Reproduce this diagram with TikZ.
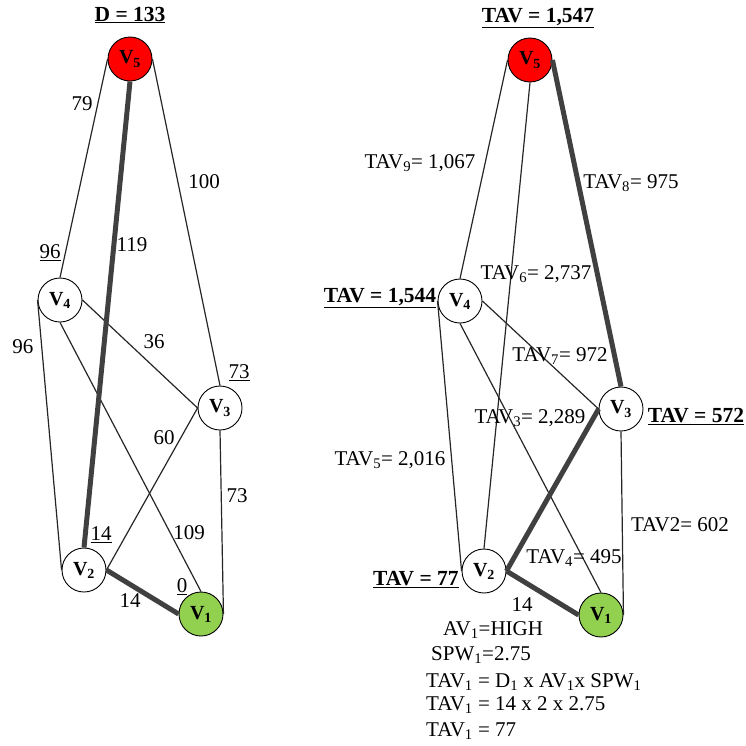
\documentclass[tikz,border=0pt]{standalone}
\usepackage{fontspec}
\setmainfont{Liberation Serif}
\definecolor{vgreen}{RGB}{146,208,80}
\begin{document}
\begin{tikzpicture}[x=1pt,y=-1pt,
  vtx/.style={circle,draw=black,line width=0.9pt,minimum size=44pt,inner sep=0pt,font=\fontsize{20}{23}\selectfont\bfseries},
  lbl/.style={inner sep=0pt,font=\fontsize{21}{25}\selectfont},
  blbl/.style={inner sep=0pt,font=\fontsize{21.5}{25}\selectfont\bfseries},
  thin/.style={draw=black!85,line width=1.2pt},
  thick/.style={draw=black!75,line width=5pt}]
\useasboundingbox (0,0) rectangle (746,745);
% ---------- left graph ----------
\node[vtx,fill=red] (a5) at (130,59) {V\textsubscript{5}};
\node[vtx,fill=white] (a4) at (60,300) {V\textsubscript{4}};
\node[vtx,fill=white] (a3) at (220,408) {V\textsubscript{3}};
\node[vtx,fill=white] (a2) at (84,570) {V\textsubscript{2}};
\node[vtx,fill=vgreen] (a1) at (201,614) {V\textsubscript{1}};
\draw[thin] (a5.west) -- (a4.north);
\draw[thin] (a5.east) -- (a3.north);
\draw[thin] (a4.east) -- (a3.west);
\draw[thin] (a4.west) -- (a2.west);
\draw[thin] (a4.south) -- (a1.north);
\draw[thin] (a3.west) -- (a2.east);
\draw[thin] (a3.south) -- (a1.east);
\draw[thick] (a5.south) -- (a2.north);
\draw[thick] (a2.east) -- (a1.west);
\node[blbl] (ld) at (130,15) {\underline{D = 133}};
\node[lbl] (l79) at (82,104) {79};
\node[lbl] (l100) at (204,182) {100};
\node[lbl] (l119) at (132,245) {119};
\node[lbl] (l96u) at (50,253) {\underline{96}};
\node[lbl] (l96) at (23,347) {96};
\node[lbl] (l36) at (154,342) {36};
\node[lbl] (l73u) at (239,373) {\underline{73}};
\node[lbl] (l60) at (164,438) {60};
\node[lbl] (l73) at (237,496) {73};
\node[lbl] (l109) at (189,533) {109};
\node[lbl] (l14u) at (101,535) {\underline{14}};
\node[lbl] (l0u) at (182,587) {\underline{0}};
\node[lbl] (l14) at (130,601) {14};
% ---------- right graph ----------
\node[vtx,fill=red] (b5) at (530,60) {V\textsubscript{5}};
\node[vtx,fill=white] (b4) at (460,301) {V\textsubscript{4}};
\node[vtx,fill=white] (b3) at (621,409) {V\textsubscript{3}};
\node[vtx,fill=white] (b2) at (484,571) {V\textsubscript{2}};
\node[vtx,fill=vgreen] (b1) at (601,615) {V\textsubscript{1}};
\draw[thin] (b5.west) -- (b4.north);
\draw[thin] (b5.south) -- (b2.north);
\draw[thin] (b4.east) -- (b3.west);
\draw[thin] (b4.west) -- (b2.west);
\draw[thin] (b4.south) -- (b1.north);
\draw[thin] (b3.south) -- (b1.east);
\draw[thick] (b5.east) -- (b3.north);
\draw[thick] (b3.west) -- (b2.east);
\draw[thick] (b2.east) -- (b1.west);
\node[blbl] (r1547) at (538,18) {\underline{TAV = 1,547}};
\node[lbl] (r9) at (420,163) {TAV\textsubscript{9}= 1,067};
\node[lbl] (r8) at (631,183) {TAV\textsubscript{8}= 975};
\node[lbl] (r6) at (536,274) {TAV\textsubscript{6}= 2,737};
\node[blbl] (r1544) at (380,298) {\underline{TAV = 1,544}};
\node[lbl] (r7) at (560,356) {TAV\textsubscript{7}= 972};
\node[lbl] (r3) at (530,418) {TAV\textsubscript{3}= 2,289};
\node[blbl] (r572) at (696,417) {\underline{TAV = 572}};
\node[lbl] (r5) at (390,460) {TAV\textsubscript{5}= 2,016};
\node[lbl] (r2) at (680,525) {TAV2= 602};
\node[lbl] (r4) at (574,558) {TAV\textsubscript{4}= 495};
\node[blbl] (r77) at (416,580) {\underline{TAV = 77}};
\node[lbl] (r14) at (522,605) {14};
\node[lbl,anchor=west] (f1) at (443,630) {AV\textsubscript{1}=HIGH};
\node[lbl,anchor=west] (f2) at (431,655) {SPW\textsubscript{1}=2.75};
\node[lbl,anchor=west] (f3) at (426,682) {TAV\textsubscript{1} = D\textsubscript{1} x AV\textsubscript{1}x SPW\textsubscript{1}};
\node[lbl,anchor=west] (f4) at (426,705) {TAV\textsubscript{1} = 14 x 2 x 2.75};
\node[lbl,anchor=west] (f5) at (426,731) {TAV\textsubscript{1} = 77};
\end{tikzpicture}
\end{document}
